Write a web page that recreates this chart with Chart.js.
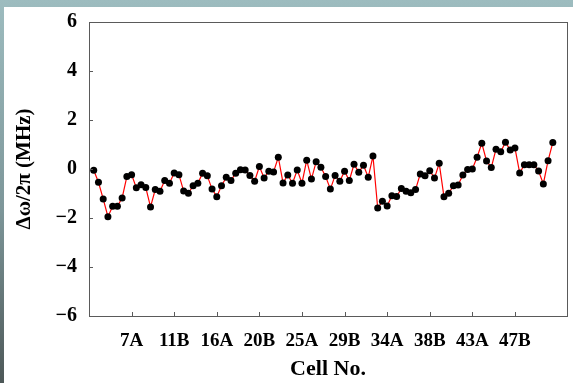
<!DOCTYPE html>
<html>
<head>
<meta charset="utf-8">
<script src="https://cdn.jsdelivr.net/npm/chart.js@4"></script>
<style>
  html, body {
    margin: 0;
    width: 573px;
    height: 383px;
    overflow: hidden;
  }
  body {
    position: relative;
    background: linear-gradient(to bottom, #9dbcbf 0%, #7d9699 55%, #4d5858 100%);
  }
  #panel {
    position: absolute;
    left: 4px;
    top: 7px;
    width: 569px;
    height: 376px;
    background: #ffffff;
  }
</style>
</head>
<body>
<div id="panel">
  <canvas id="chart" width="569" height="376"></canvas>
</div>
<script>
const cells = [
  "3A", "3B", "4A", "4B", "5A", "5B", "6A", "6B", "7A", "7B",
  "8A", "8B", "9A", "9B", "10A", "10B", "11A", "11B", "12A", "12B",
  "13A", "13B", "14A", "14B", "15A", "15B", "16A", "16B", "17A", "17B",
  "18A", "18B", "19A", "19B", "20A", "20B", "21A", "21B", "22A", "22B",
  "23A", "23B", "24A", "24B", "25A", "25B", "26A", "26B", "27A", "27B",
  "28A", "28B", "29A", "29B", "30A", "30B", "31A", "31B", "32A", "32B",
  "33A", "33B", "34A", "34B", "35A", "35B", "36A", "36B", "37A", "37B",
  "38A", "38B", "39A", "39B", "40A", "40B", "41A", "41B", "42A", "42B",
  "43A", "43B", "44A", "44B", "45A", "45B", "46A", "46B", "47A", "47B",
  "48A", "48B", "49A", "49B", "50A", "50B", "51A", "51B",
];

// Δω/2π in MHz, one value per cell
const deltaOmega = [
  -0.05, -0.54, -1.22, -1.95, -1.52, -1.52, -1.18, -0.31, -0.23, -0.77,
  -0.64, -0.76, -1.55, -0.84, -0.91, -0.47, -0.58, -0.16, -0.23, -0.90,
  -0.99, -0.68, -0.58, -0.17, -0.28, -0.82, -1.13, -0.68, -0.34, -0.47,
  -0.17, -0.03, -0.04, -0.27, -0.50, 0.10, -0.37, -0.09, -0.12, 0.48,
  -0.57, -0.24, -0.58, -0.04, -0.58, 0.36, -0.41, 0.30, 0.07, -0.31,
  -0.82, -0.27, -0.50, -0.09, -0.47, 0.19, -0.13, 0.15, -0.34, 0.53,
  -1.59, -1.32, -1.51, -1.09, -1.12, -0.80, -0.91, -0.97, -0.84, -0.20,
  -0.28, -0.07, -0.37, 0.23, -1.13, -0.99, -0.68, -0.65, -0.24, -0.02,
  0.00, 0.48, 1.05, 0.33, 0.06, 0.81, 0.70, 1.09, 0.78, 0.86,
  -0.16, 0.17, 0.17, 0.17, -0.08, -0.61, 0.34, 1.08,
];

const xTickLabels = ["7A", "11B", "16A", "20B", "25A", "29B", "34A", "38B", "43A", "47B"];
const yTicks = [-6, -4, -2, 0, 2, 4, 6];

const serif = "'Liberation Serif', 'Times New Roman', serif";

// frame plus short inward tick marks, like the original plot
const frameTicks = {
  id: "frameTicks",
  afterDraw(chart) {
    const { ctx, chartArea: a, scales } = chart;
    ctx.save();
    ctx.strokeStyle = "#5a5a5a";
    ctx.lineWidth = 1;
    ctx.strokeRect(Math.round(a.left) + 0.5, Math.round(a.top) + 0.5,
      Math.round(a.right - a.left), Math.round(a.bottom - a.top));
    ctx.beginPath();
    for (const t of scales.x.ticks) {
      const px = Math.round(scales.x.getPixelForValue(t.value)) + 0.5;
      ctx.moveTo(px, a.bottom);
      ctx.lineTo(px, a.bottom - 4);
    }
    for (const t of scales.y.ticks) {
      const py = Math.round(scales.y.getPixelForValue(t.value)) + 0.5;
      ctx.moveTo(a.left, py);
      ctx.lineTo(a.left + 4, py);
    }
    ctx.stroke();
    ctx.restore();
  },
};

new Chart(document.getElementById("chart"), {
  type: "line",
  data: {
    datasets: [
      {
        data: deltaOmega.map((v, i) => ({ x: i, y: v })),
        borderColor: "#ff0000",
        borderWidth: 1.2,
        pointRadius: 3.5,
        pointBackgroundColor: "#000000",
        pointBorderWidth: 0,
        tension: 0,
      },
    ],
  },
  options: {
    responsive: false,
    animation: false,
    layout: { padding: { left: 0, top: 15, right: 6, bottom: 0 } },
    plugins: { legend: { display: false }, tooltip: { enabled: false } },
    scales: {
      x: {
        type: "linear",
        min: -1,
        max: 100,
        grid: { display: false, drawTicks: false },
        border: { display: false },
        afterBuildTicks(scale) {
          scale.ticks = xTickLabels.map((l) => ({ value: cells.indexOf(l) }));
        },
        afterFit(scale) {
          scale.height = 67;
        },
        ticks: {
          autoSkip: false,
          maxRotation: 0,
          padding: 14,
          color: "#000",
          font: { family: serif, size: 19, weight: "bold" },
          callback: (v) => cells[v],
        },
        title: {
          display: true,
          text: "Cell No.",
          color: "#000",
          font: { family: serif, size: 22, weight: "bold" },
          padding: { top: 0, bottom: 0 },
        },
      },
      y: {
        min: -6,
        max: 6,
        grid: { display: false, drawTicks: false },
        border: { display: false },
        afterBuildTicks(scale) {
          scale.ticks = yTicks.map((v) => ({ value: v }));
        },
        afterFit(scale) {
          scale.width = 85;
          // tick padding is only meant horizontally here
          scale.paddingTop = 0;
          scale.paddingBottom = 0;
        },
        ticks: {
          padding: 12,
          color: "#000",
          font: { family: serif, size: 20, weight: "bold" },
          callback: (v) => (v < 0 ? "\u2212" + Math.abs(v) : String(v)),
        },
        title: {
          display: true,
          text: "\u0394\u03c9/2\u03c0 (MHz)",
          color: "#000",
          font: { family: serif, size: 21, weight: "bold" },
          padding: { top: 8, bottom: 0 },
        },
      },
    },
  },
  plugins: [frameTicks],
});
</script>
</body>
</html>
